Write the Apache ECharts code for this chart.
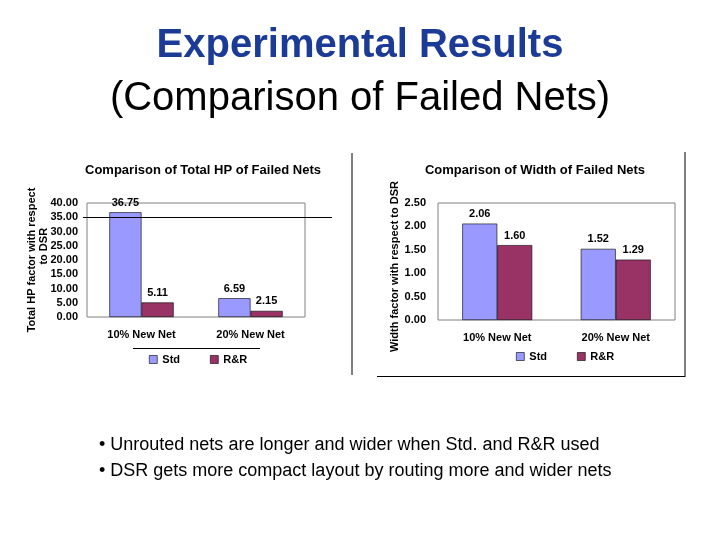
<!DOCTYPE html>
<html>
<head>
<meta charset="utf-8">
<style>
  html, body { margin: 0; padding: 0; background: #fff; }
  #main { width: 720px; height: 540px; }
</style>
</head>
<body>
<div id="main"></div>
<script src="https://cdn.jsdelivr.net/npm/echarts@6/dist/echarts.min.js"></script>
<script>
    var categories = ['10% New Net', '20% New Net'];
    var seriesNames = ['Std', 'R&R'];
    // total HP factor
    var hpStd = [36.75, 6.59];
    var hpRR = [5.11, 2.15];
    var hpRefLine = 35;
    // width factor
    var widthStd = [2.06, 1.52];
    var widthRR = [1.60, 1.29];

    var colorStd = '#9999ff';
    var colorRR = '#993366';
    var font = 'Arial, "Liberation Sans", sans-serif';

    var chart = echarts.init(document.getElementById('main'));

    function barSeries(name, data, color, axisIdx) {
        return {
            name: name,
            type: 'bar',
            xAxisIndex: axisIdx,
            yAxisIndex: axisIdx,
            data: data,
            barGap: '0%',
            barCategoryGap: '41%',
            itemStyle: { color: color, borderColor: '#000', borderWidth: 0.6 },
            label: {
                show: true, position: 'top', distance: 4,
                color: '#000', fontFamily: font, fontWeight: 'bold', fontSize: 11,
                formatter: function (p) { return p.value.toFixed(2); }
            }
        };
    }

    var axisText = { color: '#000', fontFamily: font, fontWeight: 'bold', fontSize: 11 };

    function legendAt(left, top) {
        return {
            data: seriesNames.map(function (n) { return { name: n }; }),
            left: left, top: top, padding: 0, itemWidth: 8, itemHeight: 8, itemGap: 30, icon: 'rect',
            textStyle: axisText,
            itemStyle: { borderColor: '#000', borderWidth: 0.6 }
        };
    }

    var option = {
        animation: false,
        backgroundColor: '#fff',
        title: [
            {
                text: 'Experimental Results', left: 'center', top: 21,
                textStyle: { color: '#1c3b96', fontFamily: font, fontWeight: 'bold', fontSize: 40 }
            },
            {
                text: '(Comparison of Failed Nets)', left: 'center', top: 74,
                textStyle: { color: '#000', fontFamily: font, fontWeight: 'normal', fontSize: 40 }
            },
            {
                text: 'Comparison of Total HP of Failed Nets', left: 198, top: 159, textAlign: 'center',
                textStyle: { color: '#000', fontFamily: font, fontWeight: 'bold', fontSize: 13 }
            },
            {
                text: 'Comparison of Width of Failed Nets', left: 530, top: 159, textAlign: 'center',
                textStyle: { color: '#000', fontFamily: font, fontWeight: 'bold', fontSize: 13 }
            }
        ],
        legend: [legendAt(149, 354), legendAt(516, 351)],
        grid: [
            { left: 87, right: 415, top: 203, bottom: 223, show: true, borderColor: '#808080', borderWidth: 1 },
            { left: 438, right: 45, top: 203, bottom: 220, show: true, borderColor: '#808080', borderWidth: 1 }
        ],
        xAxis: [
            {
                type: 'category', gridIndex: 0, data: categories,
                axisLine: { show: false }, axisTick: { show: false },
                axisLabel: Object.assign({ margin: 12 }, axisText)
            },
            {
                type: 'category', gridIndex: 1, data: categories,
                axisLine: { show: false }, axisTick: { show: false },
                axisLabel: Object.assign({ margin: 12 }, axisText)
            }
        ],
        yAxis: [
            {
                type: 'value', gridIndex: 0, min: 0, max: 40, interval: 5,
                name: 'Total HP factor with respect\n         to DSR', nameLocation: 'middle', nameRotate: 90,
                nameGap: 37, nameMoveOverlap: false,
                nameTextStyle: { color: '#000', fontFamily: font, fontWeight: 'bold', fontSize: 11, lineHeight: 12 },
                axisLine: { show: false }, axisTick: { show: false }, splitLine: { show: false },
                axisLabel: Object.assign({ margin: 9, formatter: function (v) { return v.toFixed(2); } }, axisText)
            },
            {
                type: 'value', gridIndex: 1, min: 0, max: 2.5, interval: 0.5,
                name: 'Width factor with respect to DSR', nameLocation: 'middle', nameRotate: 90, nameGap: 38,
                nameTextStyle: { color: '#000', fontFamily: font, fontWeight: 'bold', fontSize: 11, padding: [0, 10, 0, 0] },
                axisLine: { show: false }, axisTick: { show: false }, splitLine: { show: false },
                axisLabel: Object.assign({ margin: 12, formatter: function (v) { return v.toFixed(2); } }, axisText)
            }
        ],
        series: [
            barSeries('Std', hpStd, colorStd, 0),
            barSeries('R&R', hpRR, colorRR, 0),
            barSeries('Std', widthStd, colorStd, 1),
            barSeries('R&R', widthRR, colorRR, 1)
        ],
        graphic: [
            // divider lines from the pasted chart images
            { type: 'line', shape: { x1: 352, y1: 153, x2: 352, y2: 375 }, style: { stroke: '#000', lineWidth: 1 } },
            { type: 'line', shape: { x1: 685, y1: 152, x2: 685, y2: 377 }, style: { stroke: '#000', lineWidth: 1 } },
            { type: 'line', shape: { x1: 377, y1: 376.5, x2: 685, y2: 376.5 }, style: { stroke: '#000', lineWidth: 1 } },
            { type: 'line', shape: { x1: 133, y1: 348.5, x2: 260, y2: 348.5 }, style: { stroke: '#000', lineWidth: 1 } },
            {
                type: 'text', left: 99, top: 436,
                style: { text: '• Unrouted nets are longer and wider when Std. and R&R used', fill: '#000', font: '18px ' + font }
            },
            {
                type: 'text', left: 99, top: 462,
                style: { text: '• DSR gets more compact layout by routing more and wider nets', fill: '#000', font: '18px ' + font }
            }
        ]
    };
    chart.setOption(option);

    // black reference line at 35 that runs past the plot edges, placed through the axis scale
    var yRef = Math.round(chart.convertToPixel({ yAxisIndex: 0 }, hpRefLine)) + 0.5;
    chart.setOption({
        graphic: [{ type: 'line', id: 'ref35', shape: { x1: 83, y1: yRef, x2: 332, y2: yRef }, style: { stroke: '#000', lineWidth: 1 }, z: 10 }]
    });
</script>
</body>
</html>
